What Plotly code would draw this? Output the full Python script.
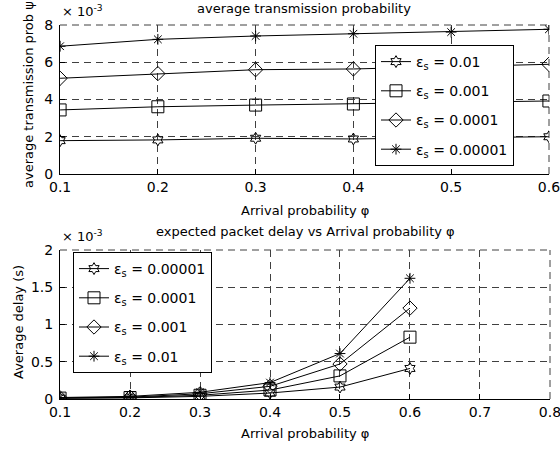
import plotly.graph_objects as go

# ---------------- data ----------------
phi_top = [0.1, 0.2, 0.3, 0.4, 0.5, 0.6]
top_labels = ["ε<sub>s</sub> = 0.01", "ε<sub>s</sub> = 0.001", "ε<sub>s</sub> = 0.0001", "ε<sub>s</sub> = 0.00001"]
# average transmission probability (x 1e-3)
psi_001 = [1.79, 1.83, 1.92, 1.88, 1.95, 2.00]
psi_0001 = [3.44, 3.61, 3.70, 3.76, 3.84, 3.92]
psi_00001 = [5.14, 5.39, 5.60, 5.64, 5.77, 5.89]
psi_000001 = [6.86, 7.23, 7.41, 7.53, 7.62, 7.77]

phi_bot = [0.1, 0.2, 0.3, 0.4, 0.5, 0.6]
bot_labels = ["ε<sub>s</sub> = 0.00001", "ε<sub>s</sub> = 0.0001", "ε<sub>s</sub> = 0.001", "ε<sub>s</sub> = 0.01"]
# average delay (x 1e-3 s)
d_000001 = [0.01, 0.015, 0.035, 0.08, 0.16, 0.41]
d_00001 = [0.012, 0.02, 0.05, 0.12, 0.31, 0.83]
d_0001 = [0.015, 0.025, 0.07, 0.17, 0.47, 1.22]
d_001 = [0.02, 0.035, 0.09, 0.22, 0.61, 1.62]

top_x_ticks = [0.1, 0.2, 0.3, 0.4, 0.5, 0.6]
top_y_ticks = [0, 2, 4, 6, 8]
bot_x_ticks = [0.1, 0.2, 0.3, 0.4, 0.5, 0.6, 0.7, 0.8]
bot_y_ticks = [0, 0.5, 1, 1.5, 2]
bot_y_ticktext = ["0", "0.5", "1", "1.5", "2"]

FONT = "DejaVu Sans"
DASH = "7px,5px"
GRID = "#404040"
EPS = 1e-4
fig = go.Figure()

top_series = [psi_001, psi_0001, psi_00001, psi_000001]
bot_series = [d_000001, d_00001, d_0001, d_001]
symbols = ["hexagram-open", "square-open", "diamond-open", "asterisk-open"]
sizes = [9, 12, 11, 9]

for i, (ys, lab) in enumerate(zip(top_series, top_labels)):
    fig.add_trace(go.Scatter(
        x=phi_top, y=ys, name=lab, mode="lines+markers",
        line=dict(color="black", width=1),
        marker=dict(symbol=symbols[i], size=sizes[i], color="black",
                    line=dict(color="black", width=1)),
        xaxis="x", yaxis="y", legend="legend", legendgroup="t%d" % i))

for i, (ys, lab) in enumerate(zip(bot_series, bot_labels)):
    fig.add_trace(go.Scatter(
        x=phi_bot, y=ys, name=lab, mode="lines+markers",
        line=dict(color="black", width=1),
        marker=dict(symbol=symbols[i], size=sizes[i], color="black",
                    line=dict(color="black", width=1)),
        xaxis="x2", yaxis="y2", legend="legend2", legendgroup="b%d" % i))

axis_common = dict(
    showgrid=True, gridcolor=GRID, griddash=DASH, gridwidth=1,
    showline=True, linecolor="black", linewidth=1, mirror=False,
    ticks="inside", ticklen=5, tickcolor="black", automargin=False,
    ticklabeloverflow="allow",
    zeroline=False, tickfont=dict(family=FONT, size=14, color="black"),
)

fig.update_layout(
    template="none",
    width=560, height=450,
    margin=dict(l=0, r=0, t=0, b=0),
    paper_bgcolor="white", plot_bgcolor="white",
    font=dict(family=FONT, size=13, color="black"),
    xaxis=dict(domain=[60/560, 549/560], range=[0.1 - EPS, 0.6 + EPS], tickvals=top_x_ticks,
               ticktext=[str(v) for v in top_x_ticks], anchor="y", **axis_common),
    yaxis=dict(domain=[1-174/450, 1-25/450], range=[0 - EPS, 8 + EPS], tickvals=top_y_ticks,
               anchor="x", ticklabelstandoff=3, **axis_common),
    xaxis2=dict(domain=[60/560, 550/560], range=[0.1 - EPS, 0.8 + EPS], tickvals=bot_x_ticks,
                ticktext=[str(v) for v in bot_x_ticks], anchor="y2", **axis_common),
    yaxis2=dict(domain=[1-399/450, 1-250/450], range=[0 - EPS, 2 + EPS], tickvals=bot_y_ticks,
                ticktext=bot_y_ticktext, anchor="x2", ticklabelstandoff=3, **axis_common),
    legend=dict(x=375/560, y=1-45/450, xanchor="left", yanchor="top",
                bgcolor="white", bordercolor="black", borderwidth=1,
                font=dict(family=FONT, size=14, color="black"),
                tracegroupgap=8, traceorder="grouped"),
    legend2=dict(x=73/560, y=1-252/450, xanchor="left", yanchor="top",
                 bgcolor="white", bordercolor="black", borderwidth=1,
                 font=dict(family=FONT, size=14, color="black"),
                 tracegroupgap=8, traceorder="grouped"),
)

# dashed top and right frame edges (gridlines at range ends)
for xr, yr in (("x", "y"), ("x2", "y2")):
    fig.add_shape(type="line", xref=xr + " domain", yref=yr + " domain", x0=0, x1=1, y0=1, y1=1,
                  line=dict(color=GRID, width=1, dash=DASH), layer="below")
    fig.add_shape(type="line", xref=xr + " domain", yref=yr + " domain", x0=1, x1=1, y0=0, y1=1,
                  line=dict(color=GRID, width=1, dash=DASH), layer="below")

annots = [
    dict(text="average transmission probability", x=304/560, y=1-8/450),
    dict(text="Arrival probability φ", x=305/560, y=1-210/450),
    dict(text="expected packet delay vs Arrival probability φ", x=305/560, y=1-231/450),
    dict(text="Arrival probability φ", x=305/560, y=1-433/450),
    dict(text="average transmission prob ψ", x=28/560, y=1-95/450, textangle=-90),
    dict(text="Average delay (s)", x=18/560, y=1-322/450, textangle=-90),
    dict(text="× 10<sup>-3</sup>", x=60/560, y=1-11/450, xanchor="left"),
    dict(text="× 10<sup>-3</sup>", x=60/560, y=1-236/450, xanchor="left"),
]
for a in annots:
    a.setdefault("xanchor", "center")
    fig.add_annotation(xref="paper", yref="paper", showarrow=False, yanchor="middle",
                       font=dict(family=FONT, size=13, color="black"), **a)

fig.write_html("out.html", config={"displayModeBar": False},
               post_script="document.body.style.margin='0px';document.body.style.overflow='hidden';")
